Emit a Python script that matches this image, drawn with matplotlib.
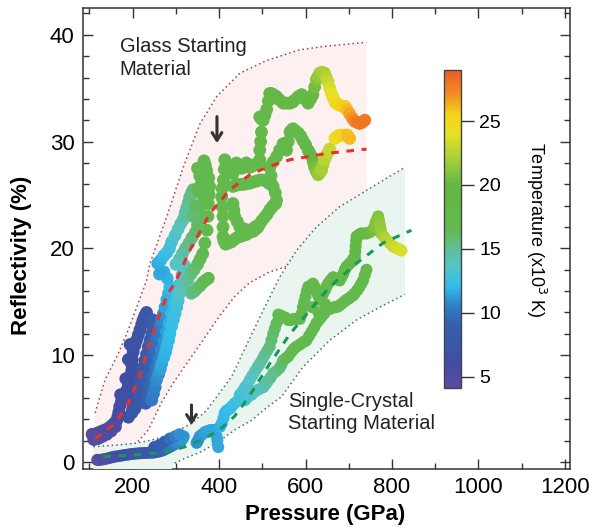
import numpy as np
import matplotlib
matplotlib.use("Agg")
import matplotlib.pyplot as plt
from matplotlib.colors import LinearSegmentedColormap, Normalize
from matplotlib.ticker import MultipleLocator

plt.rcParams['font.family'] = ['Liberation Sans', 'DejaVu Sans']

# each trace: (pressure GPa, reflectivity %, temperature 1e3 K)

# ---- glass starting material
glass_a = [(106, 2.6, 4.4), (112, 2.6, 4.5), (118, 2.7, 4.6), (124, 2.8, 4.7), (130, 2.9, 4.8), (136, 3.0, 4.9),
           (142, 3.1, 5.0), (148, 3.3, 5.1), (154, 3.5, 5.2), (159, 3.7, 5.3), (163, 3.9, 5.4), (166, 4.3, 5.5),
           (168, 4.7, 5.6), (170, 5.2, 5.7), (174, 5.7, 5.8), (178, 6.1, 5.9), (182, 6.4, 6.0), (186, 6.7, 6.1),
           (190, 7.2, 6.2), (194, 7.7, 6.3), (196, 8.2, 6.4), (198, 8.6, 6.5), (198, 9.1, 6.6), (199, 9.6, 6.7),
           (201, 10.3, 6.8), (205, 10.9, 6.9), (209, 11.4, 7.0), (213, 11.9, 7.1), (217, 12.4, 7.2), (221, 12.9, 7.3),
           (224, 13.3, 7.4), (228, 13.7, 7.5), (232, 14.0, 7.6),
           (110, 2.1, 4.4), (120, 2.2, 4.5), (130, 2.4, 4.7), (140, 2.6, 4.9), (150, 2.9, 5.1), (160, 3.3, 5.3),
           (172, 6.3, 5.8), (184, 7.8, 6.1), (190, 9.6, 6.4), (194, 11.0, 6.6)]
glass_b = [(200, 5.0, 6.5), (205, 5.8, 6.7), (209, 6.4, 6.9), (213, 7.0, 7.1), (217, 7.6, 7.3), (221, 8.3, 7.5),
           (225, 8.9, 7.7), (228, 9.5, 7.9), (232, 10.1, 8.1), (236, 10.8, 8.3), (240, 11.4, 8.5), (244, 12.0, 8.7),
           (246, 12.7, 8.8), (247, 13.3, 8.9)]
glass_c = [(190, 4.2, 7.0), (198, 4.6, 7.3), (205, 5.0, 7.6), (213, 5.5, 7.9), (217, 6.1, 8.1), (221, 6.7, 8.3),
           (225, 7.2, 8.5), (228, 7.7, 8.7), (234, 8.3, 8.9), (240, 8.9, 9.1), (244, 9.5, 9.3), (248, 10.2, 9.5),
           (252, 10.8, 9.7), (255, 11.4, 10.0), (259, 12.0, 10.3), (263, 12.7, 10.6), (267, 13.3, 10.9),
           (271, 13.9, 11.2), (275, 14.5, 11.4), (279, 15.2, 11.6), (283, 15.8, 11.8), (286, 16.4, 12.0),
           (280, 17.2, 11.8), (272, 17.8, 11.7), (262, 17.6, 11.5), (258, 18.6, 11.6), (265, 18.9, 11.8),
           (272, 19.3, 12.0), (279, 19.6, 12.3), (285, 20.0, 12.6), (290, 20.6, 12.9), (298, 21.2, 13.3),
           (305, 21.8, 13.7), (311, 22.3, 14.0), (317, 22.7, 14.3), (321, 23.3, 14.6), (325, 23.8, 14.8),
           (329, 24.3, 15.0), (332, 24.8, 15.2), (336, 25.2, 15.4), (340, 25.5, 15.5)]
glass_d = [(230, 5.5, 9.0), (236, 6.3, 9.3), (242, 7.2, 9.6), (248, 8.0, 9.9), (254, 8.8, 10.2), (260, 9.6, 10.5),
           (266, 10.5, 10.8), (272, 11.3, 11.1), (278, 12.2, 11.4), (284, 13.0, 11.7), (290, 13.9, 12.0),
           (296, 14.8, 12.3), (302, 15.7, 12.6), (308, 16.6, 13.0), (314, 17.5, 13.5), (320, 18.4, 14.0)]
glass_e = [(244, 5.8, 10.3), (248, 6.4, 10.5), (252, 7.0, 10.7), (255, 7.7, 10.9), (260, 8.2, 11.1), (264, 8.7, 11.3),
           (267, 9.2, 11.5), (272, 9.8, 11.7), (276, 10.3, 11.8), (279, 10.8, 11.9), (283, 11.4, 12.0),
           (286, 12.0, 12.1), (290, 12.7, 12.2), (294, 13.3, 12.3), (298, 13.9, 12.5), (302, 14.5, 12.8),
           (305, 15.1, 13.1), (309, 15.8, 13.5), (315, 16.2, 14.0), (321, 16.7, 14.5), (328, 17.1, 15.0),
           (335, 17.6, 15.4), (342, 18.0, 15.8), (350, 18.5, 16.1), (356, 19.0, 16.4), (362, 19.5, 16.6),
           (367, 20.5, 16.8), (372, 21.7, 17.0), (374, 23.0, 17.0), (375, 24.2, 17.0), (377, 25.0, 17.0),
           (378, 25.8, 17.0), (376, 26.6, 17.0), (371, 27.3, 17.0), (368, 27.8, 17.0), (365, 28.2, 17.0)]
glass_f = [(300, 18.5, 13.5), (308, 19.0, 14.0), (315, 19.5, 14.5), (322, 20.0, 15.0), (330, 20.5, 15.3),
           (337, 21.0, 15.6), (345, 21.5, 15.9), (350, 22.2, 16.1), (355, 23.0, 16.3), (358, 24.0, 16.5),
           (360, 25.0, 16.6), (358, 26.0, 16.7), (355, 26.8, 16.8), (350, 27.5, 16.8), (345, 24.0, 16.2),
           (340, 23.0, 15.9), (350, 25.5, 16.5), (362, 27.0, 16.9)]
glass_g = [(336, 15.8, 15.2), (343, 16.0, 15.5), (350, 16.3, 15.8), (356, 16.5, 16.0), (362, 16.8, 16.2),
           (368, 17.0, 16.4), (375, 17.2, 16.5)]
glass_cluster = [(413, 28.3, 17.5), (412, 27.4, 17.5), (410, 26.4, 17.5), (407, 25.6, 17.5), (406, 24.8, 17.5),
                 (407, 23.9, 17.5), (409, 23.0, 17.5), (409, 22.0, 17.5), (409, 21.1, 17.5), (411, 20.7, 17.5),
                 (415, 20.4, 17.5), (421, 20.5, 17.5), (428, 20.6, 17.5), (434, 20.8, 17.5), (441, 21.0, 17.5),
                 (448, 21.1, 17.5), (455, 21.2, 17.5), (463, 21.3, 17.5), (471, 21.5, 17.5), (479, 21.6, 17.5),
                 (485, 21.8, 17.5), (490, 22.0, 17.5),
                 (418, 27.8, 17.5), (425, 27.4, 17.5), (432, 27.0, 17.5), (440, 28.0, 17.5), (446, 27.6, 17.5),
                 (452, 27.5, 17.5), (458, 27.6, 17.5), (463, 28.0, 17.5), (470, 27.6, 17.5), (477, 27.7, 17.5),
                 (484, 27.9, 17.5), (490, 28.0, 17.8), (494, 28.3, 17.8), (494, 29.2, 18.0), (496, 30.0, 18.0),
                 (498, 30.9, 18.0), (517, 27.6, 18.0), (520, 26.8, 18.0), (522, 26.0, 18.0)]
glass_loop = [(432, 25.8, 17.5), (438, 25.9, 17.5), (445, 26.0, 17.5), (452, 26.0, 17.5), (458, 26.0, 17.5),
              (465, 26.1, 17.5), (471, 26.1, 17.5), (478, 26.2, 17.5), (486, 26.3, 17.5), (494, 26.4, 17.5),
              (502, 26.4, 17.5), (509, 26.3, 17.5), (515, 26.1, 17.5), (520, 26.0, 17.5), (525, 25.8, 17.5),
              (530, 25.2, 17.5), (533, 24.5, 17.5), (531, 24.2, 17.5), (525, 24.0, 17.5), (521, 23.8, 17.5),
              (517, 23.6, 17.5), (511, 23.2, 17.5), (505, 22.9, 17.5), (499, 22.6, 17.5), (494, 22.3, 17.5),
              (488, 22.1, 17.5), (483, 22.0, 17.5), (477, 21.8, 17.5), (471, 21.7, 17.5), (465, 21.7, 17.5),
              (459, 21.8, 17.5), (453, 21.9, 17.5), (448, 22.0, 17.5), (442, 22.5, 17.5), (436, 23.0, 17.5),
              (434, 23.6, 17.5), (432, 24.2, 17.5)]
glass_top = [(494, 32.3, 18.0), (498, 32.1, 18.0), (502, 32.0, 18.0), (506, 32.5, 18.2), (510, 33.0, 18.2),
             (514, 33.8, 18.3), (517, 34.5, 18.4), (521, 34.5, 18.5), (525, 34.4, 18.5), (529, 34.3, 18.5),
             (533, 34.2, 18.5), (540, 33.9, 18.6), (548, 33.6, 18.7), (556, 33.6, 18.8), (564, 33.6, 19.0),
             (570, 33.7, 19.0), (575, 33.9, 19.0), (583, 34.2, 19.1), (591, 34.4, 19.2), (598, 34.0, 19.3),
             (606, 33.6, 19.5), (612, 34.0, 19.8), (617, 34.4, 20.0), (621, 35.1, 20.5), (625, 35.8, 21.0),
             (629, 36.1, 21.5), (633, 36.4, 21.5), (638, 36.5, 22.0), (644, 36.4, 22.0), (648, 36.0, 22.5),
             (652, 35.6, 23.0), (656, 35.0, 23.5), (660, 34.5, 24.0), (664, 34.1, 24.5), (668, 33.7, 24.5),
             (674, 33.5, 25.0), (679, 33.4, 25.0), (685, 33.3, 25.5), (691, 33.3, 25.5), (696, 33.0, 26.0),
             (702, 32.6, 26.5), (708, 32.2, 27.0), (714, 31.9, 27.5), (720, 31.8, 28.0), (725, 31.7, 28.0),
             (731, 31.8, 28.0), (737, 32.0, 28.0)]
glass_mid = [(517, 27.6, 18.0), (525, 28.1, 18.0), (533, 28.6, 18.0), (540, 29.2, 18.0), (548, 29.8, 18.0),
             (552, 29.5, 18.0), (556, 29.2, 18.0), (560, 30.0, 18.0), (564, 30.9, 18.0), (568, 31.1, 18.0),
             (571, 31.2, 18.0), (577, 31.0, 18.0), (583, 30.8, 18.0), (589, 30.5, 18.0), (594, 30.1, 18.2),
             (600, 29.7, 18.4), (606, 29.2, 18.6), (610, 28.9, 19.0), (614, 28.6, 19.5), (618, 28.1, 20.0),
             (621, 27.6, 20.5), (625, 27.2, 21.0), (629, 26.9, 21.5), (633, 27.1, 21.5), (637, 27.3, 22.0),
             (640, 27.8, 22.0), (644, 28.3, 22.5), (648, 28.7, 22.5), (652, 29.0, 23.0), (656, 29.3, 23.0),
             (668, 30.3, 24.5), (674, 30.5, 25.0), (679, 30.6, 25.0), (685, 30.6, 25.5), (691, 30.6, 25.5),
             (697, 30.6, 26.0), (702, 30.3, 26.0)]

# ---- single-crystal starting material
cryst_low = [(118, 0.2, 4.5), (124, 0.2, 4.6), (131, 0.25, 4.8), (138, 0.3, 5.0), (145, 0.37, 5.2),
             (151, 0.44, 5.4), (158, 0.5, 5.6), (166, 0.55, 5.8), (174, 0.6, 6.0), (182, 0.66, 6.2),
             (190, 0.7, 6.4), (197, 0.75, 6.6), (205, 0.78, 6.8), (213, 0.81, 7.0), (220, 0.83, 7.2),
             (228, 0.85, 7.4), (236, 0.86, 7.6), (244, 0.87, 7.8), (250, 0.9, 8.0), (256, 0.95, 8.3),
             (262, 1.0, 8.6), (267, 1.06, 8.9), (273, 1.15, 9.2), (278, 1.25, 9.5), (282, 1.35, 9.7),
             (286, 1.43, 9.9), (290, 1.5, 10.1), (294, 1.6, 10.3), (298, 1.68, 10.5), (302, 1.75, 10.7),
             (305, 1.82, 10.8), (308, 1.9, 10.9), (311, 1.98, 11.0), (313, 2.06, 11.1), (316, 2.2, 11.2),
             (318, 2.4, 11.2),
             (250, 1.4, 7.8), (262, 1.6, 8.4), (274, 1.9, 9.0), (286, 2.2, 9.8), (298, 2.4, 10.5), (308, 2.6, 11.0)]
cryst_mid = [(348, 1.8, 11.0), (352, 2.1, 11.0), (355, 2.4, 11.1), (361, 2.6, 11.2), (367, 2.8, 11.3),
             (373, 2.9, 11.4), (380, 3.0, 11.5), (385, 3.0, 11.5), (390, 3.0, 11.5), (394, 2.4, 11.5),
             (396, 2.0, 11.5), (398, 1.4, 11.5), (402, 3.3, 11.7), (406, 3.6, 11.8), (410, 4.1, 11.9),
             (413, 4.6, 12.0), (417, 4.8, 12.0), (421, 4.9, 12.1), (425, 5.0, 12.2), (429, 5.2, 12.3),
             (436, 5.5, 12.5), (444, 5.8, 12.7), (452, 6.1, 12.9), (460, 6.4, 13.1)]
cryst_up = [(448, 6.3, 12.8), (454, 6.6, 13.0), (460, 7.0, 13.2), (466, 7.3, 13.4), (471, 7.7, 13.6),
            (477, 8.1, 13.8), (483, 8.5, 14.0), (489, 8.9, 14.3), (494, 9.2, 14.5), (500, 9.6, 14.8),
            (505, 10.0, 15.0), (511, 10.4, 15.3), (517, 10.8, 15.5), (521, 11.4, 15.7), (525, 12.0, 15.9),
            (529, 12.5, 16.1), (533, 13.0, 16.3), (537, 13.8, 16.5), (543, 13.7, 16.6), (548, 13.6, 16.8),
            (554, 13.5, 16.9), (560, 13.3, 17.0), (567, 13.3, 17.0), (573, 13.4, 17.0), (580, 13.4, 17.0),
            (587, 13.4, 17.0), (591, 13.9, 17.0), (594, 14.5, 17.0), (597, 15.0, 17.0), (600, 15.5, 17.0),
            (603, 16.0, 17.1), (606, 16.4, 17.2), (611, 16.5, 17.3), (617, 16.7, 17.4), (621, 16.4, 17.4),
            (625, 16.0, 17.5), (629, 15.6, 17.5), (633, 15.2, 17.5), (637, 15.5, 17.5), (641, 15.8, 17.5),
            (645, 16.1, 17.5), (648, 16.4, 17.5), (652, 16.7, 17.6), (656, 16.9, 17.7), (660, 17.1, 17.8),
            (664, 17.3, 17.9), (672, 17.1, 18.0), (679, 17.0, 18.0), (683, 17.3, 18.1), (687, 17.6, 18.2),
            (691, 18.0, 18.3), (695, 18.3, 18.4), (700, 18.5, 18.5), (705, 18.7, 18.6), (710, 19.0, 18.8),
            (714, 19.2, 19.0), (715, 19.7, 19.1), (716, 20.2, 19.2), (717, 20.7, 19.3), (718, 21.1, 19.4),
            (724, 21.3, 19.5), (729, 21.4, 19.6), (735, 21.4, 19.8), (741, 21.4, 20.0), (748, 21.5, 20.2),
            (756, 21.7, 20.5), (759, 22.0, 20.7), (762, 22.4, 20.9), (765, 22.7, 21.0), (768, 23.0, 21.0),
            (770, 22.6, 21.2), (772, 22.2, 21.4), (774, 21.8, 21.5), (775, 21.4, 21.6), (781, 21.1, 22.0),
            (787, 20.8, 22.4), (795, 20.5, 22.8), (802, 20.2, 23.0), (807, 20.1, 23.2), (812, 20.0, 23.4),
            (817, 19.9, 23.5), (822, 19.8, 23.5)]
cryst_right = [(460, 5.8, 12.8), (467, 6.1, 13.0), (475, 6.3, 13.3), (483, 6.6, 13.6), (492, 6.8, 13.9),
               (502, 7.0, 14.2), (508, 7.3, 14.5), (513, 7.6, 14.7), (519, 7.9, 14.9), (525, 8.3, 15.1),
               (532, 8.5, 15.3), (540, 8.8, 15.5), (544, 9.1, 15.8), (548, 9.5, 16.0), (554, 9.7, 16.3),
               (560, 9.9, 16.5), (567, 10.3, 16.7), (573, 10.6, 16.9), (579, 10.8, 17.0), (587, 11.0, 17.0),
               (594, 11.2, 17.0), (598, 11.3, 17.0), (602, 11.4, 17.0), (608, 11.8, 17.1), (614, 12.2, 17.2),
               (620, 12.6, 17.3), (625, 13.0, 17.4), (631, 13.3, 17.5), (637, 13.6, 17.5), (643, 13.9, 17.5),
               (648, 14.2, 17.5), (654, 14.3, 17.5), (660, 14.4, 17.5), (666, 14.5, 17.5), (671, 14.5, 17.5),
               (677, 14.6, 17.5), (683, 14.8, 17.5), (689, 15.0, 17.6), (695, 15.2, 17.6), (700, 15.3, 17.7),
               (706, 15.5, 17.7), (710, 15.6, 17.8), (714, 15.8, 17.8), (720, 16.1, 17.9), (725, 16.4, 17.9),
               (729, 16.7, 18.0), (733, 17.0, 18.0), (737, 17.5, 18.0), (741, 18.0, 18.0),
               (615, 14.5, 17.4), (630, 14.0, 17.5), (645, 14.8, 17.5)]

# ---- fits and bands
glass_fit_p = [113, 159, 190, 213, 236, 255, 278, 298, 332, 379, 425, 471, 517, 564, 650, 741]
glass_fit_r = [2.2, 3.6, 5.5, 7.7, 10.8, 13.0, 15.5, 16.8, 19.8, 23.3, 25.5, 26.9, 27.7, 28.3, 28.9, 29.3]
cryst_fit_p = [132, 205, 282, 321, 359, 398, 436, 467, 517, 564, 610, 656, 718, 779, 845]
cryst_fit_r = [0.5, 0.66, 0.97, 1.43, 2.06, 2.9, 4.3, 6.0, 9.2, 12.0, 14.2, 16.4, 18.6, 20.5, 21.7]

glass_hi_p = [113, 136, 167, 190, 213, 232, 240, 279, 317, 356, 394, 448, 510, 587, 641, 741]
glass_hi_r = [4.6, 7.7, 10.2, 12.4, 14.9, 17.0, 18.6, 23.0, 27.6, 31.7, 34.2, 36.4, 37.6, 38.6, 38.9, 39.3]
glass_lo_p = [205, 236, 267, 294, 321, 359, 398, 436, 471, 517, 564, 650, 741]
glass_lo_r = [1.6, 3.0, 5.6, 7.4, 9.0, 11.2, 13.5, 15.5, 16.8, 17.8, 18.4, 18.8, 19.0]
cryst_hi_p = [109, 167, 205, 244, 282, 336, 370, 398, 429, 464, 502, 540, 579, 625, 679, 756, 830]
cryst_hi_r = [1.43, 1.6, 1.75, 2.06, 2.5, 3.6, 4.8, 6.3, 8.0, 11.0, 14.2, 17.3, 19.8, 22.0, 23.9, 25.8, 27.6]
cryst_lo_p = [297, 321, 359, 398, 436, 475, 513, 544, 594, 656, 718, 772, 830]
cryst_lo_r = [-0.1, 0.35, 0.97, 1.9, 3.0, 3.9, 5.2, 6.1, 8.9, 11.4, 13.3, 14.5, 15.7]

# colour scale of the temperature bar
cmap = LinearSegmentedColormap.from_list('temp', [
    (0.00, '#5b4b9f'), (0.08, '#3f4ea3'), (0.20, '#3560ae'), (0.26, '#2f80c8'),
    (0.32, '#33bde9'), (0.38, '#55c3c8'), (0.44, '#5fbf96'), (0.50, '#62b94f'),
    (0.64, '#65b843'), (0.72, '#a6cf38'), (0.80, '#e5e126'), (0.86, '#f5d41c'),
    (0.92, '#f29322'), (1.00, '#ee5a26')])
norm = Normalize(vmin=4.1, vmax=29.0)

fig = plt.figure(figsize=(5.9, 5.31), dpi=100)
ax = fig.add_axes([0.1407, 0.1168, 0.8254, 0.868])

# shaded bands
pink_x = glass_hi_p + glass_lo_p[::-1] + [160, 110]
pink_y = glass_hi_r + glass_lo_r[::-1] + [1.55, 1.45]
ax.fill(pink_x, pink_y, color='#fdf0f0', lw=0, zorder=1)
ax.plot(glass_hi_p, glass_hi_r, ls=(0, (1, 2)), color='#a0404e', lw=1.1, zorder=2)
ax.plot(glass_lo_p, glass_lo_r, ls=(0, (1, 2)), color='#a0404e', lw=1.1, zorder=2)

green_x = cryst_hi_p + cryst_lo_p[::-1] + [290, 109]
green_y = cryst_hi_r + cryst_lo_r[::-1] + [-0.65, -0.65]
ax.fill(green_x, green_y, color='#eaf5ef', lw=0, zorder=3)
ax.plot(cryst_hi_p, cryst_hi_r, ls=(0, (1, 2)), color='#4a6e5e', lw=1.1, zorder=4)
ax.plot(cryst_lo_p, cryst_lo_r, ls=(0, (1, 2)), color='#4a6e5e', lw=1.1, zorder=4)

# data
glass = np.array(glass_a + glass_b + glass_c + glass_d + glass_e + glass_f + glass_g
                 + glass_cluster + glass_loop + glass_top + glass_mid)
cryst = np.array(cryst_low + cryst_mid + cryst_up + cryst_right)
sc = ax.scatter(glass[:, 0], glass[:, 1], c=glass[:, 2], cmap=cmap, norm=norm, s=85,
                edgecolors='none', zorder=5)
ax.scatter(cryst[:, 0], cryst[:, 1], c=cryst[:, 2], cmap=cmap, norm=norm, s=75,
           edgecolors='none', zorder=5)

# fits
ax.plot(glass_fit_p, glass_fit_r, ls=(0, (2.5, 2.5)), color='#e8302c', lw=2.2, zorder=6)
ax.plot(cryst_fit_p, cryst_fit_r, ls=(0, (2.5, 2.5)), color='#18985a', lw=2.2, zorder=6)

# arrows
arrow_kw = dict(arrowstyle='->, head_length=0.55, head_width=0.35', color='#333333', lw=2.2)
ax.annotate('', xy=(395, 29.6), xytext=(395, 32.6), arrowprops=arrow_kw, zorder=7)
ax.annotate('', xy=(336, 3.2), xytext=(336, 5.6), arrowprops=arrow_kw, zorder=7)

ax.text(170, 39.8, 'Glass Starting\nMaterial', fontsize=14.5, va='top', ha='left',
        linespacing=1.25, color='#222222')
ax.text(560, 6.6, 'Single-Crystal\nStarting Material', fontsize=14.5, va='top', ha='left',
        linespacing=1.2, color='#222222')

ax.set_xlim(85, 1212)
ax.set_ylim(-0.65, 42.5)
ax.set_xticks([200, 400, 600, 800, 1000, 1200])
ax.set_yticks([0, 10, 20, 30, 40])
ax.xaxis.set_minor_locator(MultipleLocator(100))
ax.yaxis.set_minor_locator(MultipleLocator(2))
ax.tick_params(which='both', direction='in', top=True, right=True, color='#333333', width=1.0)
ax.tick_params(which='major', length=7, labelsize=16, pad=6)
ax.tick_params(which='minor', length=4)
for sp in ax.spines.values():
    sp.set_color('#333333')
    sp.set_linewidth(1.1)

fig.text(0.551, 0.032, 'Pressure (GPa)', fontsize=16, fontweight='bold', ha='center', va='center')
fig.text(0.036, 0.52, 'Reflectivity (%)', fontsize=16, fontweight='bold', ha='center', va='center',
         rotation=90)

# colour bar inside the plot
cax = fig.add_axes([0.7525, 0.2693, 0.0288, 0.599])
cb = fig.colorbar(sc, cax=cax, ticks=[5, 10, 15, 20, 25])
cb.outline.set_edgecolor('#444444')
cb.outline.set_linewidth(1.0)
cax.tick_params(direction='out', length=9, width=1.0, labelsize=14, color='#333333', pad=4)
fig.text(0.908, 0.567, 'Temperature (x10$^3$ K)', fontsize=13, rotation=270, ha='center', va='center')

fig.savefig('out.png', dpi=100)
